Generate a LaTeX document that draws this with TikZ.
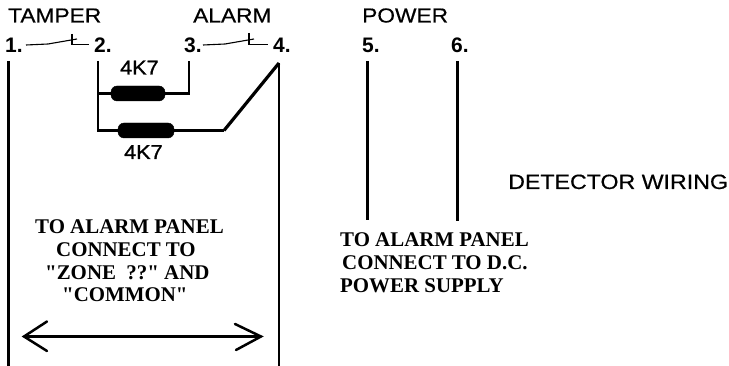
\documentclass[tikz,border=0pt]{standalone}
\usepackage{fontspec}
\setmainfont{Liberation Sans}
\newfontfamily\sansmed[FakeBold=0.5,FakeStretch=1.12]{Liberation Sans}
\newfontfamily\sansheavy[FakeBold=1.2,FakeStretch=1.08]{Liberation Sans}
\newfontfamily\serifb{Liberation Serif Bold}
\tikzset{
  sanslabel/.style={inner sep=0pt,anchor=base west,font=\sansmed\fontsize{20.3}{20}\selectfont},
  termlabel/.style={inner sep=0pt,anchor=base west,font=\fontsize{21}{21}\selectfont\bfseries},
  reslabel/.style={inner sep=0pt,anchor=base west,font=\sansheavy\fontsize{20}{20}\selectfont},
  seriflabel/.style={inner sep=0pt,anchor=base west,font=\serifb\fontsize{20.9}{20}\selectfont},
  wire/.style={line width=2.5pt,black},
  thinwire/.style={line width=1.1pt,black},
  resistor/.style={draw=black,fill=black,rounded corners=6pt,minimum height=15pt,inner sep=0pt}
}
\begin{document}
\begin{tikzpicture}[x=1pt,y=-1pt]
\useasboundingbox (0,0) rectangle (729,366);
\node[sanslabel] (tamper) at (8,22.5) {TAMPER};
\node[sanslabel] (alarm) at (193,22.5) {ALARM};
\node[sanslabel] (power) at (362,22.5) {POWER};
\node[termlabel] (t1) at (5,52.5) {1.};
\node[termlabel] (t2) at (94,52.5) {2.};
\node[termlabel] (t3) at (184,52.5) {3.};
\node[termlabel] (t4) at (273,52.5) {4.};
\node[termlabel] (t5) at (362,52.5) {5.};
\node[termlabel] (t6) at (451,52.5) {6.};
\node[reslabel] (ra) at (120,74.5) {4K7};
\node[reslabel] (rb) at (124,159) {4K7};
\node[resistor,minimum width=54pt] (r1) at (138,93.5) {};
\node[resistor,minimum width=56pt] (r2) at (146,130.5) {};
\node[sanslabel,font=\sansmed\fontsize{20.7}{20}\selectfont] (title) at (508,189) {DETECTOR WIRING};
\node[seriflabel] (l1) at (35,234) {TO ALARM PANEL};
\node[seriflabel] (l2) at (56,257) {CONNECT TO};
\node[seriflabel] (l3) at (45,280) {"ZONE\ \ ??" AND};
\node[seriflabel] (l4) at (62,302) {"COMMON"};
\node[seriflabel] (p1) at (340,246.5) {TO ALARM PANEL};
\node[seriflabel] (p2) at (342,269.5) {CONNECT TO D.C.};
\node[seriflabel] (p3) at (340,292.5) {POWER SUPPLY};
% switches
\coordinate (s1a) at (26,45); \coordinate (s1b) at (48,44); \coordinate (s1c) at (77,39);
\coordinate (s1t) at (72,34); \coordinate (s1d) at (72,44.5); \coordinate (s1e) at (89,44.5);
\draw[thinwire] (s1a) -- (s1b) -- (s1c);
\draw[thinwire] (s1t) -- (s1d) -- (s1e);
\coordinate (s2a) at (203,45); \coordinate (s2b) at (225,44); \coordinate (s2c) at (254,39);
\coordinate (s2t) at (249,33); \coordinate (s2d) at (249,44.5); \coordinate (s2e) at (268,44.5);
\draw[thinwire] (s2a) -- (s2b) -- (s2c);
\draw[thinwire] (s2t) -- (s2d) -- (s2e);
% wires
\coordinate (w1a) at (8.5,61); \coordinate (w1b) at (8.5,366);
\coordinate (w2a) at (98,61); \coordinate (w2b) at (98,130.5); \coordinate (w2c) at (98,93.5);
\coordinate (w3a) at (189,61); \coordinate (w3b) at (189,93.5);
\coordinate (w4a) at (279,63); \coordinate (w4b) at (279,366);
\coordinate (w5a) at (367.5,61); \coordinate (w5b) at (367.5,220);
\coordinate (w6a) at (457.5,61); \coordinate (w6b) at (457.5,221);
\coordinate (j) at (224,130.5);
\draw[wire] (w1a) -- (w1b);
\draw[wire] (w4a) -- (w4b);
\draw[wire] (w5a) -- (w5b);
\draw[wire] (w6a) -- (w6b);
\draw[wire] (w2a) -- (w2b) -- (r2.west);
\draw[wire] (w2c) -- (r1.west);
\draw[wire] (r1.east) -- (w3b) -- (w3a);
\draw[wire] (r2.east) -- (j);
\draw[line width=3.2pt,black] (j) -- (w4a);
% arrow
\coordinate (al) at (24,336.5); \coordinate (ar) at (261,336.5);
\coordinate (alu) at (47,321.5); \coordinate (ald) at (47,351);
\coordinate (aru) at (235,324); \coordinate (ard) at (236,350);
\draw[wire] (al) -- (ar);
\draw[wire,line cap=round] (alu) -- (al) -- (ald);
\draw[wire,line cap=round] (aru) -- (ar) -- (ard);
\end{tikzpicture}
\end{document}
